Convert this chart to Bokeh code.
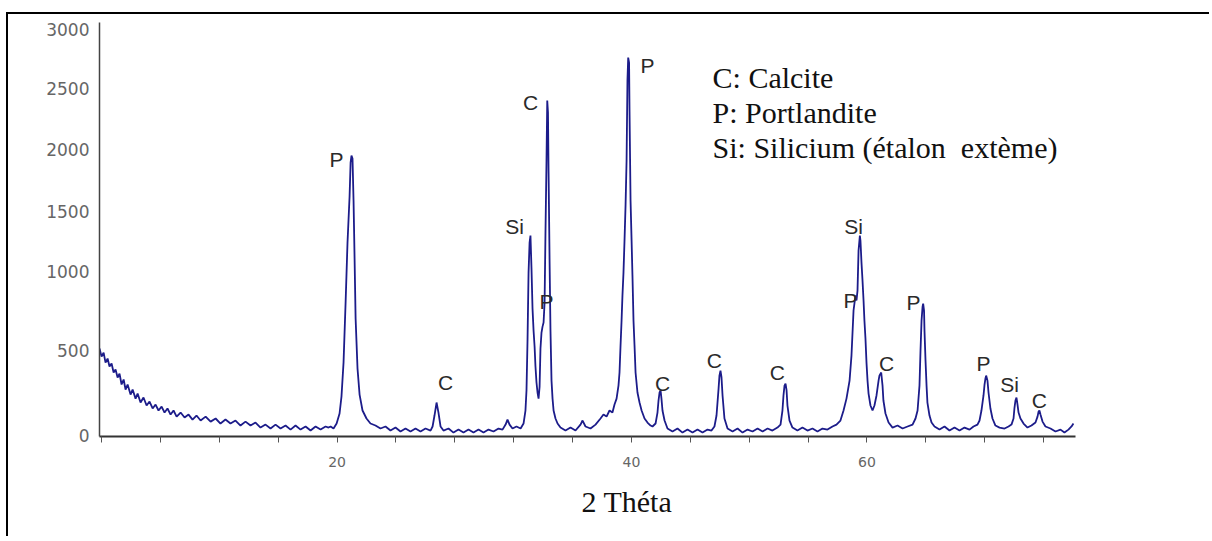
from bokeh.plotting import figure
from bokeh.models import Range1d, FixedTicker, Label, Title, ColumnDataSource
from bokeh.core.properties import value
from bokeh.embed import file_html
from bokeh.resources import INLINE

# ---------------- data ----------------
two_theta = [
    3.86, 4.00, 4.14, 4.27, 4.41, 4.54, 4.68, 4.82, 4.95, 5.09, 5.22, 5.36, 5.50, 5.63, 5.77,
    5.97, 6.11, 6.31, 6.45, 6.65, 6.85, 7.06, 7.26, 7.47, 7.67, 7.87, 8.08, 8.28, 8.48, 8.69,
    8.89, 9.10, 9.37, 9.64, 9.91, 10.18, 10.45, 10.73, 11.07, 11.41, 11.75, 12.08, 12.42, 12.76,
    13.10, 13.44, 13.78, 14.12, 14.46, 14.80, 15.14, 15.48, 15.82, 16.16, 16.50, 16.84, 17.18,
    17.52, 17.86, 18.20, 18.54, 18.88, 19.22, 19.42,
    19.56, 19.76, 19.97, 20.17, 20.30, 20.44, 20.58, 20.71, 20.85, 20.92, 20.98, 21.05, 21.12,
    21.19, 21.26, 21.39, 21.53, 21.73, 22.00, 22.27, 22.61, 22.95,
    23.29, 23.63, 23.97, 24.31, 24.65, 24.99, 25.33, 25.67, 26.01, 26.35,
    26.49, 26.62, 26.76, 26.89, 27.03, 27.23,
    27.57, 27.91, 28.25, 28.59, 28.93, 29.27, 29.61, 29.95, 30.29, 30.63, 30.97, 31.24,
    31.45, 31.58, 31.72, 31.92, 32.19, 32.47, 32.67,
    32.80, 32.87, 32.94, 33.01, 33.08, 33.14, 33.21, 33.28, 33.35, 33.42, 33.48, 33.55, 33.62,
    33.69, 33.76, 33.82, 33.89, 33.96, 34.03, 34.10, 34.16, 34.23, 34.28, 34.33, 34.37, 34.44,
    34.50, 34.57, 34.64, 34.71, 34.84, 34.98, 35.18,
    35.52, 35.86, 36.20, 36.54, 36.68, 36.88, 37.22, 37.56, 37.90, 38.10, 38.31, 38.51, 38.71,
    38.85, 38.99,
    39.12, 39.19, 39.26, 39.33, 39.39, 39.46, 39.53, 39.60, 39.67, 39.73, 39.78, 39.84, 39.87,
    39.94, 40.01, 40.07, 40.14, 40.21, 40.28, 40.41, 40.55, 40.69, 40.89, 41.09, 41.30, 41.43,
    41.64, 41.77, 41.84, 41.91, 41.98, 42.04, 42.11, 42.25, 42.45,
    42.79, 43.13, 43.47, 43.81, 44.15, 44.49, 44.83, 45.17, 45.44,
    45.64, 45.78, 45.92, 45.98, 46.05, 46.12, 46.19, 46.32, 46.53,
    46.87, 47.21, 47.55, 47.89, 48.23, 48.57, 48.91, 49.25, 49.58, 49.92,
    50.13, 50.26, 50.33, 50.40, 50.47, 50.54, 50.60, 50.74, 50.94,
    51.28, 51.62, 51.96, 52.30, 52.64, 52.98, 53.32, 53.66, 53.93,
    54.20, 54.41, 54.61, 54.82, 54.95, 55.09, 55.22, 55.29, 55.36, 55.43, 55.52, 55.56, 55.63,
    55.70, 55.77, 55.83, 55.90, 55.97, 56.04, 56.11, 56.24, 56.38, 56.51, 56.65, 56.79, 56.85,
    56.97, 57.06, 57.12, 57.26, 57.47, 57.74,
    58.08, 58.42, 58.76, 59.10,
    59.30, 59.44, 59.57, 59.64, 59.71, 59.78, 59.82, 59.88, 59.91, 59.98, 60.05, 60.11, 60.25,
    60.39, 60.59,
    60.93, 61.27, 61.61, 61.95, 62.29, 62.63, 62.97, 63.24, 63.51,
    63.65, 63.78, 63.92, 63.99, 64.05, 64.10, 64.19, 64.26, 64.39, 64.53, 64.73,
    65.01, 65.35, 65.62, 65.82,
    65.96, 66.02, 66.09, 66.16, 66.23, 66.30, 66.43, 66.64, 66.91,
    67.18, 67.45, 67.59, 67.66, 67.72, 67.79, 67.93, 68.13,
    68.47, 68.81, 69.15, 69.42, 69.69, 69.90, 70.03,
]
intensity = [
    643, 584, 613, 539, 569, 510, 532, 466, 488, 429, 458, 377, 414, 340, 377,
    303, 340, 273, 310, 244, 281, 222, 251, 200, 229, 185, 214, 170, 200, 155,
    185, 140, 170, 133, 155, 118, 148, 111, 140, 103, 126, 89, 118, 89,
    111, 74, 103, 74, 96, 59, 81, 52, 81, 52, 74, 44, 74,
    44, 67, 37, 67, 44, 67, 59,
    67, 52, 89, 163, 288, 539, 983, 1426, 1766, 2017, 2069, 2047, 1736,
    1308, 865, 495, 303, 185, 126, 89, 74, 52,
    67, 37, 59, 30, 52, 30, 52, 30, 52, 37,
    67, 148, 244, 170, 67, 37,
    52, 22, 44, 22, 44, 22, 44, 22, 44, 30, 52, 44,
    81, 118, 81, 52, 67, 52, 89,
    185, 333, 702, 1204, 1426, 1478, 1234, 938, 776, 658, 510, 392, 318,
    273, 362, 643, 761, 805, 835, 983, 1500, 2032, 2475, 2387, 1943, 1278,
    776, 406, 273, 185, 126, 89, 59,
    37, 59, 37, 81, 111, 67, 52, 81, 126, 155, 140, 185, 170,
    229, 273,
    369, 466, 665, 850, 1034, 1204, 1441, 1699, 2032, 2623, 2793, 2756, 2401,
    1736, 1441, 1182, 850, 665, 466, 318, 244, 185, 126, 96, 74, 67,
    89, 170, 259, 318, 333, 273, 185, 111, 52,
    30, 52, 22, 44, 22, 44, 22, 44, 37,
    67, 148, 347, 443, 480, 429, 296, 126, 52,
    30, 52, 22, 44, 30, 52, 30, 52, 37, 59,
    81, 185, 296, 369, 384, 333, 222, 111, 59,
    37, 59, 37, 52, 30, 52, 44, 67, 81,
    111, 185, 273, 406, 591, 924, 1034, 998, 1071, 1367, 1478, 1441, 1278,
    1145, 998, 850, 717, 539, 406, 310, 222, 185, 222, 296, 406, 443,
    466, 369, 259, 163, 96, 59,
    74, 52, 67, 81,
    126, 185, 369, 628, 850, 953, 975, 924, 776, 554, 369, 244, 148,
    96, 67,
    44, 67, 37, 59, 37, 59, 44, 67, 81,
    111, 185, 296, 377, 421, 443, 406, 318, 200, 126, 74,
    59, 52, 67, 81,
    126, 200, 259, 281, 229, 170, 126, 89, 59,
    74, 96, 140, 177, 185, 155, 103, 67,
    52, 30, 44, 22, 44, 67, 89,
]

x_tick_pos = [4, 8, 12, 16, 20, 24, 28, 32, 36, 40, 44, 48, 52, 56, 60, 64, 68]
x_tick_text = ["", "", "", "", "20", "", "", "", "", "40", "", "", "", "60", "", "", ""]

y_tick_pos = [0, 628, 1212, 1655, 2113, 2564, 3000]
y_tick_text = ["0", "500", "1000", "1500", "2000", "2500", "3000"]

peak_x = [19.96, 27.37, 32.06, 33.14, 34.23, 41.09, 42.11, 45.64, 49.92,
          55.09, 54.88, 57.33, 59.16, 63.92, 65.69, 67.72]
peak_y = [2039, 392, 1544, 2461, 990, 2734, 384, 554, 466,
          1544, 998, 532, 983, 532, 377, 259]
peak_text = ["P", "C", "Si", "C", "P", "P", "C", "C", "C",
             "Si", "P", "C", "P", "P", "Si", "C"]

legend_lines = ["C: Calcite", "P: Portlandite", "Si: Silicium (étalon\u00a0 extème)"]
legend_x = 45.51
legend_y = [2645, 2386, 2128]

x_title = "2 Théta"

# ---------------- figure ----------------
p = figure(width=1203, height=524, output_backend="svg", toolbar_location=None,
           x_range=Range1d(3.86, 70.17), y_range=Range1d(-7, 3052),
           min_border_left=91, min_border_right=136, min_border_top=8, min_border_bottom=102)
p.styles = {"border-top": "2px solid #000", "border-left": "2px solid #000",
            "margin-top": "12px", "margin-left": "6px"}
p.background_fill_color = "white"
p.border_fill_color = "white"
p.outline_line_color = None
p.xgrid.visible = False
p.ygrid.visible = False

src = ColumnDataSource(dict(x=two_theta, y=intensity))
p.line("x", "y", source=src, line_color="#1c1c8a", line_width=1.8)

p.text(x=peak_x, y=peak_y, text=peak_text, text_font=value("Liberation Sans"),
       text_font_size="21px", text_align="center", text_baseline="middle", text_color="#2a2a2a")

for t, yy in zip(legend_lines, legend_y):
    p.add_layout(Label(x=legend_x, y=yy, text=t, text_font="Liberation Serif",
                       text_font_size="30px", text_color="#111111",
                       text_align="left", text_baseline="alphabetic"))

# x axis
xa = p.xaxis[0]
xa.ticker = FixedTicker(ticks=x_tick_pos)
xa.major_label_overrides = {t: s for t, s in zip(x_tick_pos, x_tick_text)}
xa.minor_tick_line_color = None
xa.major_tick_out = 6
xa.major_tick_in = 0
xa.major_tick_line_color = "#555555"
xa.axis_line_color = "#333333"
xa.axis_line_width = 2
xa.major_label_standoff = 14
xa.major_label_text_font = "DejaVu Sans"
xa.major_label_text_font_size = "14px"
xa.major_label_text_color = "#666666"

# y axis
ya = p.yaxis[0]
ya.ticker = FixedTicker(ticks=y_tick_pos)
ya.major_label_overrides = {t: s for t, s in zip(y_tick_pos, y_tick_text)}
ya.minor_tick_line_color = None
ya.major_tick_line_color = None
ya.major_tick_out = 0
ya.major_tick_in = 0
ya.axis_line_color = "#444444"
ya.axis_line_width = 1.5
ya.major_label_standoff = 10
ya.major_label_text_font = "DejaVu Sans"
ya.major_label_text_font_size = "17px"
ya.major_label_text_color = "#666666"

p.add_layout(Title(text=x_title, align="left", offset=482, standoff=27,
                   text_font="Liberation Serif", text_font_size="30px",
                   text_font_style="normal", text_color="#111111"), "below")

open("out.html", "w").write(file_html(p, INLINE))
